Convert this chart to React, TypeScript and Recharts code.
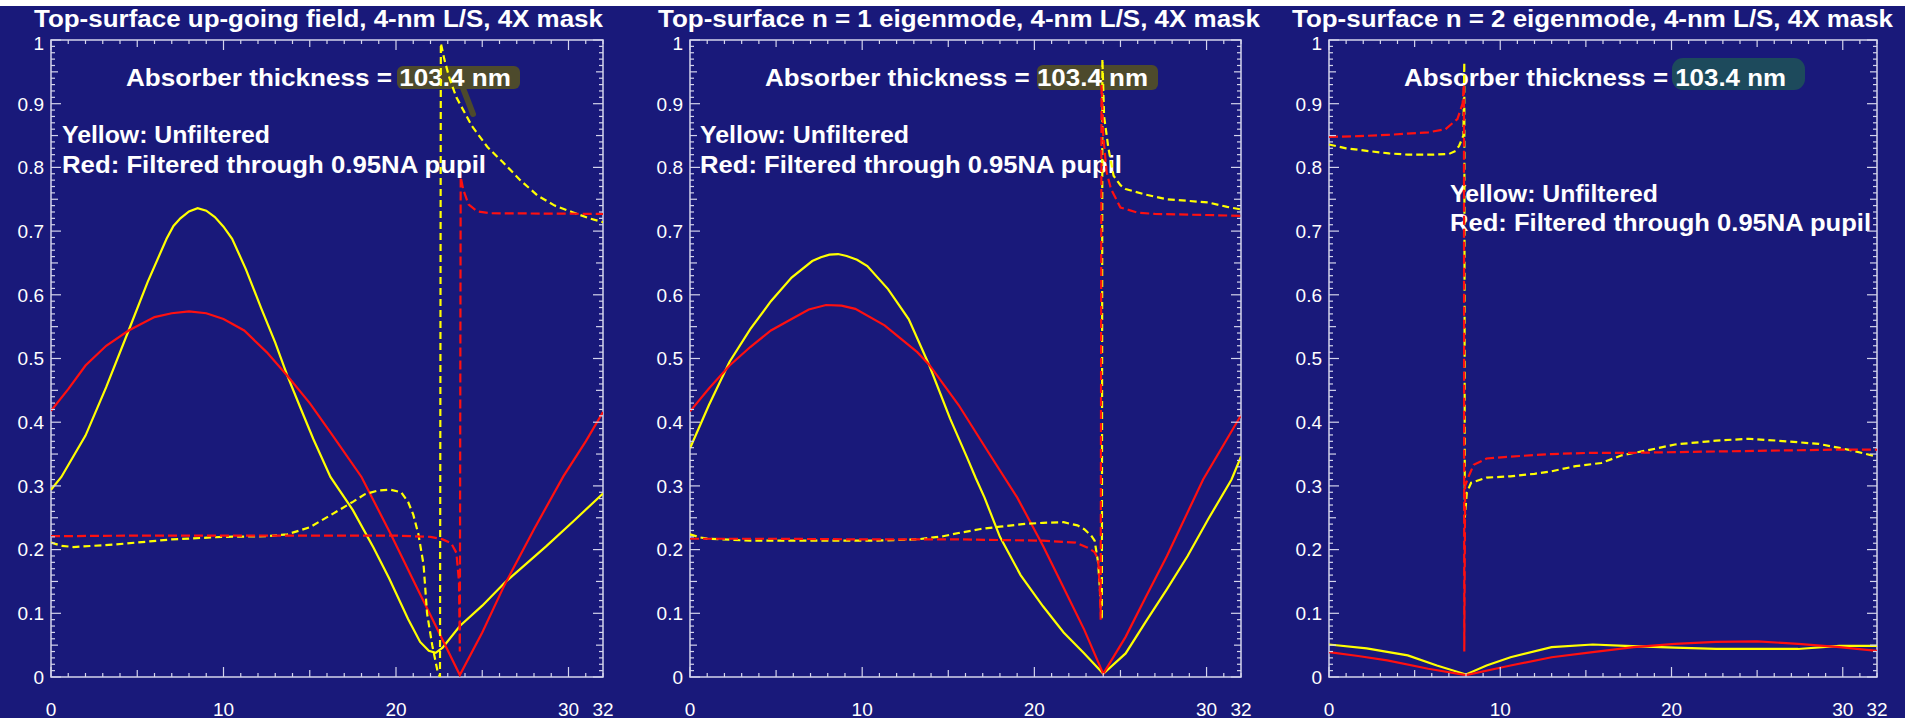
import { LineChart, Line, XAxis, YAxis, ReferenceArea } from "recharts";

// three panels of |field| across one 32-nm period, 4-nm L/S on a 4X mask
const xTickLabels = [0, 10, 20, 30, 32];
const yTickLabels = ["0", "0.1", "0.2", "0.3", "0.4", "0.5", "0.6", "0.7", "0.8", "0.9", "1"];
const xTicks = Array.from({ length: 33 }, (_, i) => i);
const yTicks = Array.from({ length: 101 }, (_, i) => i / 100);

type Pair = [number, number];

// panel 1: top-surface up-going field
const p1YellowSolid: Pair[] = [
  [0, 0.294], [0.6, 0.314], [2, 0.379], [3.2, 0.455], [4.5, 0.544], [5.6, 0.62], [6.7, 0.688],
  [7.1, 0.708], [7.5, 0.72], [8, 0.731], [8.5, 0.736], [9, 0.732], [9.5, 0.722], [10, 0.707],
  [10.5, 0.688], [11.3, 0.64], [12.2, 0.578], [13, 0.525], [13.7, 0.473], [14.5, 0.42],
  [15.2, 0.374], [16.2, 0.314], [17.5, 0.262], [18.7, 0.203], [19.6, 0.155], [20.7, 0.091],
  [21.4, 0.055], [21.9, 0.041], [22.3, 0.038], [22.7, 0.046], [23.7, 0.08], [25, 0.112],
  [26.3, 0.148], [28.7, 0.205], [30.3, 0.245], [32, 0.288],
];
const p1RedSolid: Pair[] = [
  [0, 0.418], [1, 0.452], [2, 0.489], [3.2, 0.52], [4.5, 0.544], [6, 0.565], [7, 0.571],
  [8, 0.574], [9, 0.571], [10, 0.562], [11.2, 0.544], [12.5, 0.51], [13.7, 0.473], [15, 0.43],
  [16.2, 0.384], [18, 0.314], [19.7, 0.224], [21.2, 0.141], [22.4, 0.075], [23.7, 0.003],
  [25, 0.07], [26.3, 0.145], [28, 0.232], [29.7, 0.315], [31, 0.37], [32, 0.416],
];
const p1YellowDash: Pair[] = [
  [0, 0.211], [0.6, 0.206], [1.3, 0.204], [3.7, 0.208], [7, 0.216], [10, 0.22], [12.5, 0.221],
  [13.7, 0.224], [15, 0.235], [16.2, 0.254], [17.5, 0.275], [18.2, 0.287], [19, 0.293],
  [19.7, 0.294], [20.3, 0.29], [20.7, 0.275], [21, 0.255], [21.3, 0.224], [21.6, 0.176],
  [21.8, 0.1], [22.1, 0.05], [22.4, 0.01], [22.55, 0], [22.6, 0.995], [22.8, 0.97], [23.1, 0.94],
  [23.5, 0.91], [24.4, 0.865], [25.3, 0.832], [26.2, 0.808], [27.2, 0.78], [28.2, 0.756],
  [29.2, 0.74], [30.2, 0.73], [31.2, 0.72], [32, 0.714],
];
const p1RedDash: Pair[] = [
  [0, 0.221], [5, 0.222], [10, 0.222], [15, 0.222], [20, 0.222], [22, 0.22], [22.7, 0.216],
  [23.2, 0.21], [23.5, 0.195], [23.65, 0.15], [23.7, 0.04], [23.75, 0.785], [23.9, 0.765],
  [24.2, 0.742], [24.7, 0.731], [25.5, 0.728], [32, 0.727],
];

// panel 2: n = 1 eigenmode
const p2YellowSolid: Pair[] = [
  [0, 0.359], [1.1, 0.427], [2.3, 0.495], [3.5, 0.546], [4.7, 0.59], [5.9, 0.627], [7.1, 0.653],
  [7.6, 0.659], [8.1, 0.663], [8.6, 0.664], [9.1, 0.661], [9.7, 0.655], [10.3, 0.645],
  [11.5, 0.609], [12.7, 0.562], [13.9, 0.489], [15.1, 0.406], [16.1, 0.344], [16.6, 0.312],
  [17.1, 0.282], [18, 0.22], [19.2, 0.16], [20.5, 0.111], [21.7, 0.07], [22.9, 0.037],
  [24, 0.005], [25.3, 0.037], [26.5, 0.088], [27.7, 0.138], [28.9, 0.19], [30.1, 0.248],
  [31.45, 0.31], [32, 0.346],
];
const p2RedSolid: Pair[] = [
  [0, 0.417], [1.1, 0.453], [2.3, 0.489], [3.5, 0.518], [4.7, 0.544], [5.9, 0.562], [6.9, 0.577],
  [7.9, 0.584], [8.8, 0.583], [9.6, 0.578], [11.3, 0.552], [13.2, 0.51], [13.9, 0.49],
  [15.6, 0.427], [17.3, 0.354], [19, 0.282], [20.5, 0.206], [21.7, 0.14], [22.9, 0.074],
  [24, 0.005], [25.3, 0.063], [26.5, 0.127], [27.7, 0.19], [29.8, 0.31], [31, 0.365], [32, 0.411],
];
const p2YellowDash: Pair[] = [
  [0, 0.224], [0.6, 0.219], [1.1, 0.217], [3.5, 0.214], [6, 0.214], [10.8, 0.214], [13.2, 0.216],
  [14.7, 0.221], [15.6, 0.226], [16.8, 0.232], [18, 0.236], [19.3, 0.24], [20.5, 0.242],
  [21.7, 0.243], [22.5, 0.238], [22.9, 0.232], [23.3, 0.222], [23.5, 0.214], [23.7, 0.18],
  [23.85, 0.12], [23.92, 0.09], [23.95, 0.97], [24.05, 0.88], [24.3, 0.83], [24.6, 0.787],
  [25, 0.772], [25.3, 0.766], [26.5, 0.757], [27.7, 0.75], [30.1, 0.745], [31.2, 0.738],
  [32, 0.734],
];
const p2RedDash: Pair[] = [
  [0, 0.217], [5, 0.217], [10, 0.216], [15.6, 0.216], [20.5, 0.214], [22.4, 0.211], [23.1, 0.203],
  [23.5, 0.196], [23.7, 0.185], [23.8, 0.14], [23.85, 0.09], [23.9, 0.93], [24, 0.85],
  [24.2, 0.792], [24.45, 0.766], [25, 0.737], [26, 0.729], [27, 0.727], [32, 0.724],
];

// panel 3: n = 2 eigenmode
const p3YellowSolid: Pair[] = [
  [0, 0.051], [2.2, 0.045], [4.6, 0.034], [6.3, 0.018], [8, 0.004], [9.2, 0.018], [10.6, 0.031],
  [13, 0.047], [15.4, 0.051], [17.3, 0.049], [20.2, 0.046], [22.6, 0.044], [27.4, 0.044],
  [29.8, 0.049], [32, 0.049],
];
const p3RedSolid: Pair[] = [
  [0, 0.039], [1.7, 0.033], [3.4, 0.026], [5.8, 0.013], [8, 0.003], [10.6, 0.018], [13, 0.031],
  [15.4, 0.039], [17.8, 0.047], [20.2, 0.052], [22.6, 0.055], [25, 0.056], [27.4, 0.052],
  [29.8, 0.047], [32, 0.041],
];
const p3YellowDash: Pair[] = [
  [0, 0.836], [1, 0.83], [2.2, 0.826], [3.5, 0.822], [4.6, 0.82], [6, 0.82], [7, 0.821],
  [7.4, 0.826], [7.6, 0.834], [7.85, 0.85], [7.9, 0.965], [7.93, 0.25], [8.05, 0.29],
  [8.3, 0.305], [9.2, 0.313], [10.6, 0.315], [12, 0.319], [13, 0.323], [14.4, 0.331],
  [15.9, 0.336], [17.1, 0.348], [18.8, 0.357], [20.2, 0.365], [22.6, 0.371], [24.5, 0.374],
  [26.2, 0.371], [28.6, 0.366], [30.3, 0.357], [31.7, 0.348], [32, 0.346],
];
const p3RedDash: Pair[] = [
  [0, 0.848], [1.7, 0.849], [3.4, 0.851], [5.8, 0.855], [6.8, 0.86], [7.5, 0.876], [7.8, 0.9],
  [7.88, 0.93], [7.9, 0.04], [7.95, 0.3], [8.2, 0.318], [8.45, 0.333], [9.2, 0.343],
  [10.6, 0.346], [13, 0.35], [15.4, 0.352], [17.8, 0.352], [20.2, 0.353], [22.6, 0.354],
  [25, 0.355], [27.4, 0.356], [29.8, 0.357], [32, 0.357],
];

const NAVY = "#19197a";
const AXIS = "#d4d4ec";
const YEL = "#ffff00";
const RED = "#ff1010";
const FONT = "'Liberation Sans', Arial, Helvetica, sans-serif";
const TOP = 40;
const PLOT_H = 637;

const toPts = (a: Pair[]) => a.map(([x, y]) => ({ x, y }));

const panels = [
  { left: 51, width: 552, series: [p1YellowSolid, p1RedSolid, p1YellowDash, p1RedDash] },
  { left: 690, width: 551, series: [p2YellowSolid, p2RedSolid, p2YellowDash, p2RedDash] },
  { left: 1329, width: 548, series: [p3YellowSolid, p3RedSolid, p3YellowDash, p3RedDash] },
];

// text drawn behind the plots: [x, baseline, fitted width, size, text]
const texts: [number, number, number, number, string][] = [
  [34, 27, 569, 23, "Top-surface up-going field, 4-nm L/S, 4X mask"],
  [126, 86, 385, 24, "Absorber thickness = 103.4 nm"],
  [62, 143, 208, 23, "Yellow: Unfiltered"],
  [62, 173, 424, 23, "Red: Filtered through 0.95NA pupil"],
  [658, 27, 602, 23, "Top-surface n = 1 eigenmode, 4-nm L/S, 4X mask"],
  [765, 86, 383, 24, "Absorber thickness = 103.4 nm"],
  [700, 143, 209, 23, "Yellow: Unfiltered"],
  [700, 173, 422, 23, "Red: Filtered through 0.95NA pupil"],
  [1292, 27, 601, 23, "Top-surface n = 2 eigenmode, 4-nm L/S, 4X mask"],
  [1404, 86, 382, 24, "Absorber thickness = 103.4 nm"],
  [1450, 202, 208, 23, "Yellow: Unfiltered"],
  [1450, 231, 421, 23, "Red: Filtered through 0.95NA pupil"],
];

function tickLen(i: number) {
  return i % 10 === 0 ? 10 : i % 5 === 0 ? 7 : 4;
}

function Panel({ left, width, series }: { left: number; width: number; series: Pair[][] }) {
  // the axes get 1px so recharts still renders them
  const mLeft = 50;
  const chartW = width + mLeft + 1 + 27;
  const yTick = (props: any) => {
    const { x, y, payload } = props;
    const i = Math.round(payload.value * 100);
    const len = tickLen(i);
    return (
      <g>
        <line x1={x} x2={x + len} y1={y} y2={y} stroke={AXIS} strokeWidth={1.2} />
        <line x1={x + width} x2={x + width - len} y1={y} y2={y} stroke={AXIS} strokeWidth={1.2} />
        {i % 10 === 0 && (
          <text x={x - 7} y={i === 100 ? y + 3 : y} dy="0.36em" textAnchor="end" fill="#fff" fontSize={19} fontFamily={FONT}>
            {yTickLabels[i / 10]}
          </text>
        )}
      </g>
    );
  };
  const xTick = (props: any) => {
    const { x, y, payload } = props;
    const v = payload.value as number;
    const len = tickLen(v);
    return (
      <g>
        <line x1={x} x2={x} y1={y} y2={y - len} stroke={AXIS} strokeWidth={1.2} />
        <line x1={x} x2={x} y1={y - PLOT_H} y2={y - PLOT_H + len} stroke={AXIS} strokeWidth={1.2} />
        {xTickLabels.includes(v) && (
          <text x={x} y={y + 39} textAnchor="middle" fill="#fff" fontSize={19} fontFamily={FONT}>
            {v}
          </text>
        )}
      </g>
    );
  };
  const styles = [
    { stroke: YEL, dash: undefined },
    { stroke: RED, dash: undefined },
    { stroke: YEL, dash: "7 4" },
    { stroke: RED, dash: "9 4" },
  ];
  return (
    <div style={{ position: "absolute", left: left - mLeft - 1, top: 0 }}>
      <LineChart
        width={chartW}
        height={718}
        margin={{ top: TOP, left: mLeft, right: 27, bottom: 718 - TOP - PLOT_H - 1 }}
      >
        <XAxis
          dataKey="x"
          type="number"
          domain={[0, 32]}
          ticks={xTicks}
          interval={0}
          height={1}
          tickSize={0}
          tickMargin={0}
          axisLine={false}
          tickLine={false}
          tick={xTick}
          allowDataOverflow
        />
        <YAxis
          type="number"
          domain={[0, 1]}
          ticks={yTicks}
          interval={0}
          width={1}
          tickSize={0}
          tickMargin={0}
          axisLine={false}
          tickLine={false}
          tick={yTick}
          allowDataOverflow
        />
        <ReferenceArea x1={0} x2={32} y1={0} y2={1} fill="none" stroke={AXIS} strokeWidth={1.5} />
        {series.map((s, k) => (
          <Line
            key={k}
            data={toPts(s)}
            dataKey="y"
            type="linear"
            stroke={styles[k].stroke}
            strokeWidth={2.2}
            strokeDasharray={styles[k].dash}
            dot={false}
            activeDot={false}
            isAnimationActive={false}
          />
        ))}
      </LineChart>
    </div>
  );
}

export default function App() {
  return (
    <div style={{ position: "absolute", left: 0, top: 0, width: 1905, height: 718, background: "#fff", overflow: "hidden" }}>
      <div style={{ position: "absolute", left: 0, top: 6, width: 1905, height: 712, background: NAVY }} />
      <svg width={1905} height={718} style={{ position: "absolute", left: 0, top: 0 }}>
        <rect x={397} y={66} width={123} height={23} rx={6} fill="#4d4a2c" />
        <line x1={456} y1={70} x2={473} y2={114} stroke="#4d4a2c" strokeWidth={6} strokeLinecap="round" />
        <rect x={1037} y={65} width={121} height={25} rx={6} fill="#4d4a2c" />
        <rect x={1672} y={58} width={133} height={32} rx={11} fill="#1d4a5c" />
        {texts.map(([x, y, w, size, t], i) => (
          <text
            key={i}
            x={x}
            y={y}
            fontSize={size}
            fontWeight="bold"
            fontFamily={FONT}
            fill="#fff"
            textLength={w}
            lengthAdjust="spacingAndGlyphs"
          >
            {t}
          </text>
        ))}
      </svg>
      {panels.map((p, i) => (
        <Panel key={i} left={p.left} width={p.width} series={p.series} />
      ))}
    </div>
  );
}
